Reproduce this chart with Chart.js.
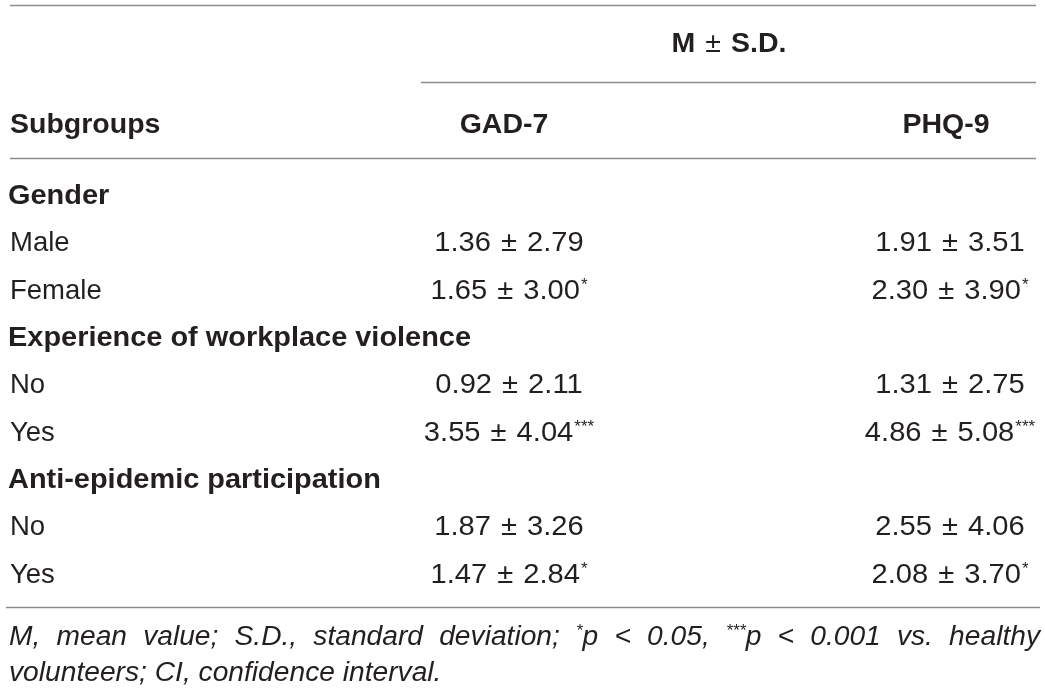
<!DOCTYPE html>
<html>
<head>
<meta charset="utf-8">
<script src="https://cdn.jsdelivr.net/npm/chart.js@4"></script>
<style>
html,body{margin:0;padding:0;background:#fff;}
#wrap{width:1045px;height:692px;position:relative;}
</style>
</head>
<body>
<div id="wrap"><canvas id="tbl"></canvas></div>
<script>
// table data
const subgroups = ['Gender','Male','Female','Experience of workplace violence','No','Yes','Anti-epidemic participation','No','Yes'];
const isGroup = [true,false,false,true,false,false,true,false,false];
const gadMean = [null,'1.36','1.65',null,'0.92','3.55',null,'1.87','1.47'];
const gadSD   = [null,'2.79','3.00',null,'2.11','4.04',null,'3.26','2.84'];
const gadSig  = ['','','*','','','***','','','*'];
const phqMean = [null,'1.91','2.30',null,'1.31','4.86',null,'2.55','2.08'];
const phqSD   = [null,'3.51','3.90',null,'2.75','5.08',null,'4.06','3.70'];
const phqSig  = ['','','*','','','***','','','*'];
const spanHeader = ['M', '\u00b1', 'S.D.'];
const colHeaders = ['Subgroups','GAD-7','PHQ-9'];
const footLines = [
  'M, mean value; S.D., standard deviation; *p < 0.05, ***p < 0.001 vs. healthy',
  'volunteers; CI, confidence interval.'
];

// layout
const W = 1045, H = 692;
const FONT = "'Liberation Sans', Arial, Helvetica, sans-serif";
const INK = '#231f20';
const RULE = '#8c8c8c';
const X_LEFT = 8, X_GAD = 509, X_PHQ = 950, X_GADH = 504, X_PHQH = 946, X_SPAN = 729;
const ROW0 = 204, ROW_STEP = 47.35;
const rowBase = i => ROW0 + ROW_STEP * i;
const NUM_SX = 1.06, PM_GAP = 10;

function cellText(m, s, sig){
  return m === null ? null : {parts: [m, '\u00b1', s], sig: sig};
}

// draws "m ± s" with superscript marks, centred on x
function drawCell(ctx, cell, x, y){
  ctx.font = '27.5px ' + FONT;
  const ws = cell.parts.map(p => ctx.measureText(p).width * NUM_SX);
  const wMain = ws[0] + ws[1] + ws[2] + 2 * PM_GAP;
  ctx.font = '17px ' + FONT;
  const wSig = cell.sig ? ctx.measureText(cell.sig).width + 1 : 0;
  let cx = x - (wMain + wSig) / 2;
  ctx.textAlign = 'left';
  ctx.font = '27.5px ' + FONT;
  cell.parts.forEach((p, k) => {
    ctx.save();
    ctx.translate(cx, y);
    ctx.scale(NUM_SX, 1);
    ctx.fillText(p, 0, 0);
    ctx.restore();
    cx += ws[k] + (k < 2 ? PM_GAP : 0);
  });
  if (cell.sig){
    ctx.font = '17px ' + FONT;
    ctx.fillText(cell.sig, cx + 1, y - 9);
  }
}

// justified footnote with superscript asterisks
const FOOT = 'italic 28.2px ', FOOT_SUP = 'italic 17px ';
function splitWord(w){
  const m = w.match(/^(\*+)(.*)$/);
  return m ? [[m[1], true], [m[2], false]] : [[w, false]];
}
function wordWidth(ctx, w){
  let t = 0;
  splitWord(w).forEach(([s, sup]) => {
    ctx.font = (sup ? FOOT_SUP : FOOT) + FONT;
    t += ctx.measureText(s).width;
  });
  return t;
}
function drawFootLine(ctx, line, x0, x1, y, justify){
  const words = line.split(' ');
  ctx.font = FOOT + FONT;
  const sp = ctx.measureText(' ').width;
  const widths = words.map(w => wordWidth(ctx, w));
  const total = widths.reduce((a,b)=>a+b,0);
  const gap = justify ? (x1 - x0 - total) / (words.length - 1) : sp;
  let x = x0;
  ctx.textAlign = 'left';
  words.forEach(w => {
    splitWord(w).forEach(([s, sup]) => {
      ctx.font = (sup ? FOOT_SUP : FOOT) + FONT;
      ctx.fillText(s, x, sup ? y - 9 : y);
      x += ctx.measureText(s).width;
    });
    x += gap;
  });
}

const gadCells = gadMean.map((m,i)=>cellText(m, gadSD[i], gadSig[i]));
const phqCells = phqMean.map((m,i)=>cellText(m, phqSD[i], phqSig[i]));

const tablePlugin = {
  id: 'tablePlugin',
  afterDatasetsDraw(chart){
    const ctx = chart.ctx;
    const xs = chart.scales.x, ys = chart.scales.y;
    ctx.save();
    // rules
    ctx.strokeStyle = RULE;
    ctx.lineWidth = 1.5;
    const rule = (xa, xb, y) => {
      ctx.beginPath();
      ctx.moveTo(xs.getPixelForValue(xa), ys.getPixelForValue(y));
      ctx.lineTo(xs.getPixelForValue(xb), ys.getPixelForValue(y));
      ctx.stroke();
    };
    rule(10, 1036, 5.5);
    rule(421, 1036, 82.5);
    rule(10, 1036, 158.5);
    rule(6, 1040, 607.5);

    ctx.fillStyle = INK;
    ctx.textBaseline = 'alphabetic';
    // spanning header: bold M and S.D., plain ±
    const sy = ys.getPixelForValue(52);
    ctx.font = 'bold 28.5px ' + FONT;
    const wM = ctx.measureText(spanHeader[0]).width, wS = ctx.measureText(spanHeader[2]).width;
    ctx.font = '28.5px ' + FONT;
    const wP = ctx.measureText(spanHeader[1]).width;
    let hx = xs.getPixelForValue(X_SPAN) - (wM + wP + wS + 20) / 2;
    ctx.textAlign = 'left';
    ctx.font = 'bold 28.5px ' + FONT;
    ctx.fillText(spanHeader[0], hx, sy);
    ctx.font = '28.5px ' + FONT;
    ctx.fillText(spanHeader[1], hx + wM + 10, sy);
    ctx.font = 'bold 28.5px ' + FONT;
    ctx.fillText(spanHeader[2], hx + wM + wP + 20, sy);

    ctx.textAlign = 'center';
    ctx.fillText(colHeaders[1], xs.getPixelForValue(X_GADH), ys.getPixelForValue(133));
    ctx.fillText(colHeaders[2], xs.getPixelForValue(X_PHQH), ys.getPixelForValue(133));
    ctx.textAlign = 'left';
    ctx.fillText(colHeaders[0], xs.getPixelForValue(X_LEFT + 2), ys.getPixelForValue(133));

    // body rows from dataset elements
    chart.getDatasetMeta(0).data.forEach((pt, i) => {
      ctx.font = (isGroup[i] ? 'bold 28.5px ' : '27.5px ') + FONT;
      ctx.textAlign = 'left';
      if (isGroup[i]){
        ctx.save();
        ctx.translate(pt.x, pt.y);
        ctx.scale(1.015, 1);
        ctx.fillText(subgroups[i], 0, 0);
        ctx.restore();
      } else {
        ctx.fillText(subgroups[i], pt.x + 2, pt.y);
      }
    });
    [[1, gadCells], [2, phqCells]].forEach(([d, cells]) => {
      chart.getDatasetMeta(d).data.forEach((pt, i) => {
        if (cells[i]) drawCell(ctx, cells[i], pt.x, pt.y);
      });
    });

    // footnote
    drawFootLine(ctx, footLines[0], xs.getPixelForValue(9), xs.getPixelForValue(1040), ys.getPixelForValue(645), true);
    drawFootLine(ctx, footLines[1], xs.getPixelForValue(9), xs.getPixelForValue(1040), ys.getPixelForValue(681), false);
    ctx.restore();
  }
};

new Chart(document.getElementById('tbl'), {
  type: 'scatter',
  data: {
    datasets: [
      { label: 'Subgroups', data: subgroups.map((s,i)=>({x: X_LEFT, y: rowBase(i)})), pointRadius: 0 },
      { label: 'GAD-7', data: gadMean.map((m,i)=>({x: X_GAD, y: rowBase(i)})), pointRadius: 0 },
      { label: 'PHQ-9', data: phqMean.map((m,i)=>({x: X_PHQ, y: rowBase(i)})), pointRadius: 0 }
    ]
  },
  options: {
    responsive: true,
    maintainAspectRatio: false,
    animation: false,
    layout: { padding: 0 },
    events: [],
    scales: {
      x: { type: 'linear', min: 0, max: W, display: false },
      y: { type: 'linear', min: 0, max: H, reverse: true, display: false }
    },
    plugins: { legend: { display: false }, tooltip: { enabled: false } }
  },
  plugins: [tablePlugin]
});
</script>
</body>
</html>
